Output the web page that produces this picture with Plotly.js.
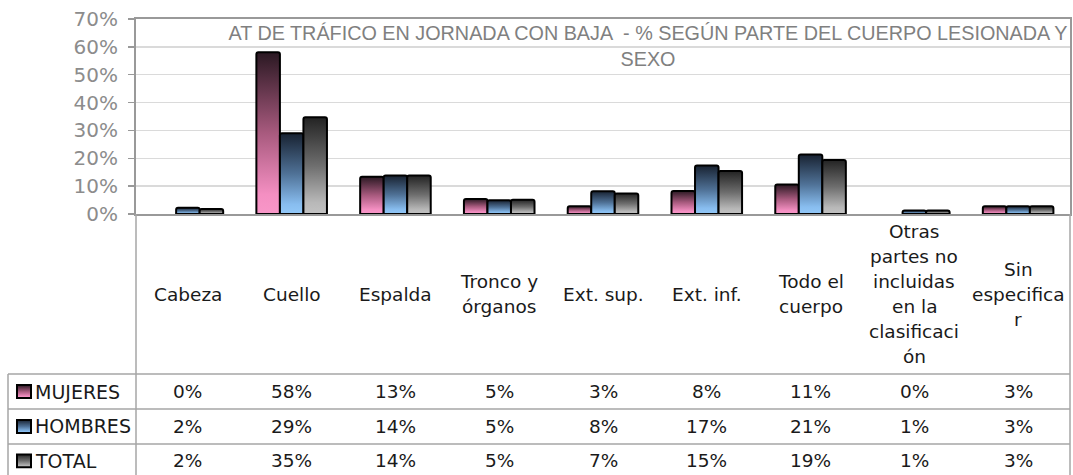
<!DOCTYPE html>
<html>
<head>
<meta charset="utf-8">
<script src="https://cdn.plot.ly/plotly-3.0.1.min.js"></script>
<style>
  body { margin: 0; background: #fff; }
  #chart { width: 1073px; height: 475px; }
</style>
</head>
<body>
<div id="chart"></div>
<script>
const categories = ['Cabeza', 'Cuello', 'Espalda', 'Tronco y\nórganos', 'Ext. sup.', 'Ext. inf.',
    'Todo el\ncuerpo', 'Otras\npartes no\nincluidas\nen la\nclasificaci\nón', 'Sin\nespecifica\nr'];
const seriesNames = ['MUJERES', 'HOMBRES', 'TOTAL'];
const mujeres = [0, 58.1, 13.4, 5.4, 2.8, 8.3, 10.6, 0, 2.8];
const hombres = [2.2, 29.0, 13.8, 4.9, 8.2, 17.4, 21.4, 1.3, 2.8];
const total = [1.8, 34.7, 13.8, 5.1, 7.4, 15.4, 19.4, 1.3, 2.8];
const yTicks = [0, 10, 20, 30, 40, 50, 60, 70];

// plot area in pixels, used to place the data table below the axis
const L = 136, R = 1070, T = 19, B = 214.5;
const px = x => (x - L) / (R - L);
const py = y => (B - y) / (B - T);

const font = 'DejaVu Sans, Verdana, sans-serif';
const gradients = [
    ['#2a1822', '#a85a7e', '#f48fc2', '#f897c8'],
    ['#182231', '#4f7196', '#88bdef', '#92c8f8'],
    ['#232323', '#6e6e6e', '#b8b8b8', '#c2c2c2']
];
const midColors = ['#d07aa4', '#6a9ccc', '#8c8c8c'];

const xs = categories.map(c => c.replace(/\n/g, ' '));
const allSeries = [mujeres, hombres, total];

const data = allSeries.map((vals, i) => ({
    type: 'bar',
    name: seriesNames[i],
    x: xs,
    y: vals,
    marker: {
        color: midColors[i],
        line: { color: '#000', width: vals.map(v => v > 0 ? 2 : 0) },
        cornerradius: 2
    },
    hoverinfo: 'skip'
}));

const annotations = [];
const shapes = [];
const keyShapes = [];
const textFont = { family: font, size: 18.5, color: '#1a1a1a' };

// category labels, one annotation per line so the line spacing matches
categories.forEach((c, i) => {
    const lines = c.split('\n');
    lines.forEach((ln, j) => {
        const yc = 295 + (j - (lines.length - 1) / 2) * 25;
        annotations.push({
            x: xs[i], xref: 'x', y: py(yc), yref: 'paper',
            text: ln, showarrow: false, xanchor: 'center', yanchor: 'middle',
            font: textFont
        });
    });
});

// table rows
const rowY = [392.5, 427.5, 462];
allSeries.forEach((vals, r) => {
    vals.forEach((v, i) => {
        annotations.push({
            x: xs[i], xref: 'x', y: py(rowY[r]), yref: 'paper',
            text: Math.round(v) + '%', showarrow: false, xanchor: 'center', yanchor: 'middle',
            font: textFont
        });
    });
    annotations.push({
        x: px(33), xref: 'paper', y: py(rowY[r]), yref: 'paper',
        text: seriesNames[r], showarrow: false, xanchor: 'left', yanchor: 'middle',
        font: { family: font, size: 19, color: '#1a1a1a' }
    });
    keyShapes.push(shapes.length);
    shapes.push({
        type: 'rect', xref: 'paper', yref: 'paper',
        x0: px(17), x1: px(31), y0: py(rowY[r] - 6.5), y1: py(rowY[r] + 6.5),
        fillcolor: midColors[r], line: { color: '#000', width: 2 }
    });
});

const gridColor = '#a6a6a6';
[375, 410, 445].forEach(y => {
    shapes.push({ type: 'line', xref: 'paper', yref: 'paper', x0: px(8), x1: px(1070), y0: py(y), y1: py(y),
        line: { color: gridColor, width: 1.5 } });
});
[[8, 375], [136, 214.5], [1070, 214.5]].forEach(([x, y0]) => {
    shapes.push({ type: 'line', xref: 'paper', yref: 'paper', x0: px(x), x1: px(x), y0: py(y0), y1: py(480),
        line: { color: gridColor, width: 1.5 } });
});

const layout = {
    width: 1073,
    height: 475,
    margin: { l: L, r: 1073 - R, t: T, b: 475 - B },
    paper_bgcolor: '#fff',
    plot_bgcolor: '#fff',
    showlegend: false,
    barmode: 'group',
    bargap: 0.32,
    bargroupgap: 0,
    title: {
        text: 'AT DE TRÁFICO EN JORNADA CON BAJA  - % SEGÚN PARTE DEL CUERPO LESIONADA Y<br>SEXO',
        x: px(648), xref: 'paper', xanchor: 'center',
        y: 1 - 40 / 475, yref: 'container', yanchor: 'top',
        font: { family: 'Liberation Sans, Arial, sans-serif', size: 19.8, color: '#808080' }
    },
    xaxis: {
        type: 'category',
        showticklabels: false,
        ticks: '',
        showline: true, mirror: true, linecolor: '#999', linewidth: 2,
        showgrid: false, zeroline: false
    },
    yaxis: {
        range: [0, 70],
        tickvals: yTicks,
        ticktext: yTicks.map(v => v + '%'),
        ticks: 'outside', ticklen: 6, tickcolor: '#999', tickwidth: 1.5,
        ticklabelstandoff: 6,
        tickfont: { family: font, size: 20, color: '#8c8c8c' },
        showline: true, mirror: true, linecolor: '#999', linewidth: 2,
        gridcolor: '#dadada', gridwidth: 1.5, zeroline: false
    },
    annotations: annotations,
    shapes: shapes
};

Plotly.newPlot('chart', data, layout, { displayModeBar: false, staticPlot: true }).then(gd => {
    // Excel-like vertical gradients on the bars and the table keys
    const svg = gd.querySelector('svg.main-svg');
    const defs = svg.querySelector('defs');
    const ns = 'http://www.w3.org/2000/svg';
    gradients.forEach((stops, i) => {
        const g = document.createElementNS(ns, 'linearGradient');
        g.setAttribute('id', 'barGrad' + i);
        g.setAttribute('x1', '0'); g.setAttribute('y1', '0');
        g.setAttribute('x2', '0'); g.setAttribute('y2', '1');
        [0, 0.5, 0.88, 1].forEach((o, k) => {
            const s = document.createElementNS(ns, 'stop');
            s.setAttribute('offset', o);
            s.setAttribute('stop-color', stops[k]);
            g.appendChild(s);
        });
        defs.appendChild(g);
    });
    gd.querySelectorAll('.trace.bars').forEach((tr, i) => {
        tr.querySelectorAll('.point path').forEach(p => { p.style.fill = 'url(#barGrad' + i + ')'; });
    });
    keyShapes.forEach((idx, i) => {
        gd.querySelectorAll('.shapelayer path[data-index="' + idx + '"]').forEach(p => {
            p.style.fill = 'url(#barGrad' + i + ')';
        });
    });
});
</script>
</body>
</html>
